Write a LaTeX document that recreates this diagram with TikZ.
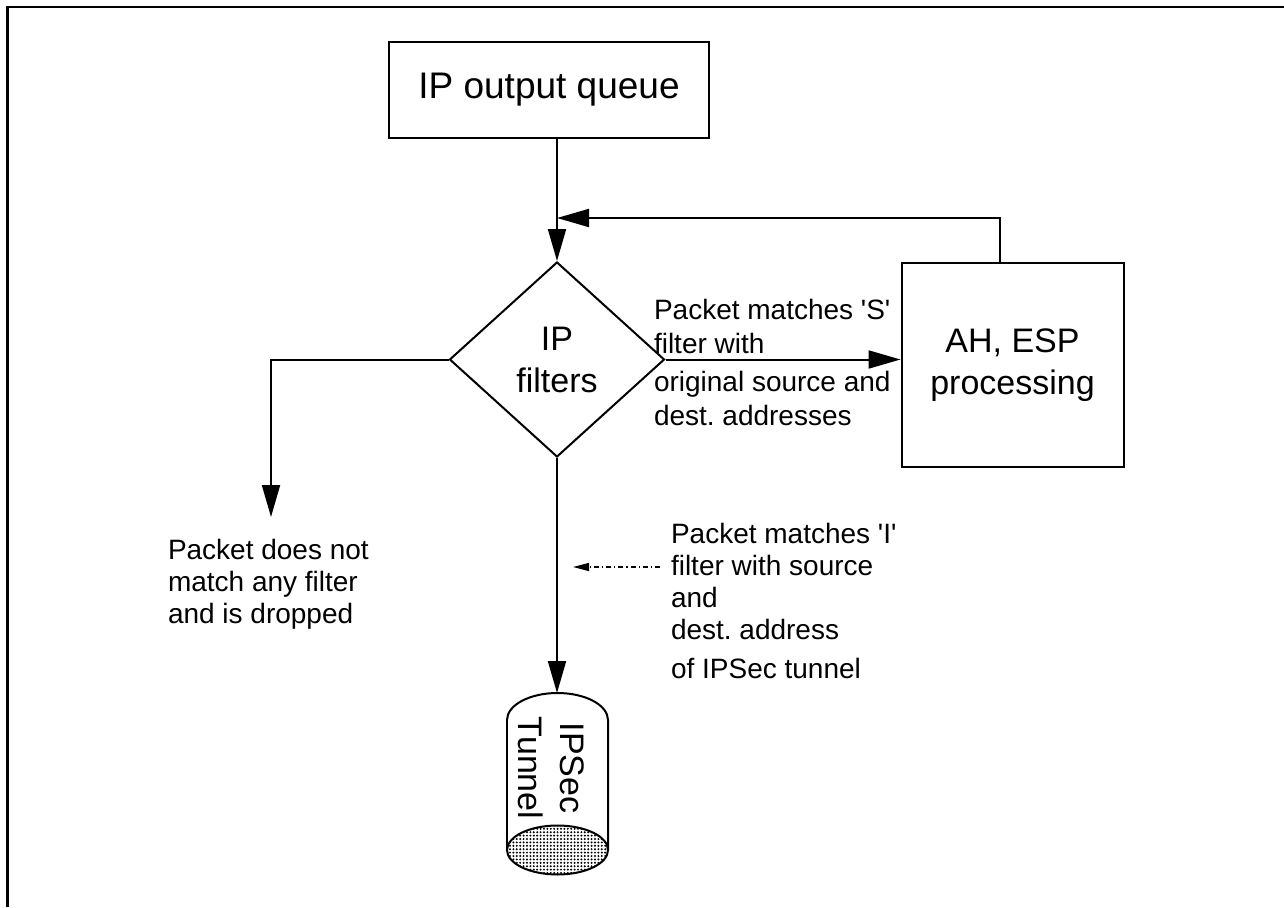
\documentclass[tikz,border=0pt]{standalone}
\usepackage{fontspec}
\setmainfont{Liberation Sans}
\usetikzlibrary{arrows.meta,shapes.geometric,patterns.meta,calc}
\frenchspacing
\begin{document}
\begin{tikzpicture}[x=0.5pt,y=0.5pt,
  line width=1pt,
  flow/.style={-{Triangle[length=16pt,width=9pt]}},
  proc/.style={draw,rectangle,inner sep=0pt,align=center,font=\fontsize{17}{21}\selectfont},
  decide/.style={draw,diamond,inner sep=0pt,align=center,font=\fontsize{17}{21}\selectfont},
  note/.style={inner sep=0pt,anchor=north west,align=left,font=\fontsize{14}{16}\selectfont}
]
\useasboundingbox (0,0) rectangle (1284,907);
% page frame
\draw[line width=1.2pt] (7.5,0) -- (7.5,900) -- (1284,900);

% boxes and decision
\node[proc,minimum width=160pt,minimum height=48pt,font=\fontsize{18.5}{22}\selectfont] (queue) at (549,817) {IP output queue};
\node[decide,minimum width=107.5pt,minimum height=97.5pt] (filt) at (557,547.5) {IP\\filters};
\node[proc,minimum width=111pt,minimum height=102pt] (ah) at (1012.5,542) {AH, ESP\\processing};

% queue to filters
\draw[flow] (filt.north |- queue.south) -- (filt.north);

% loop back from AH/ESP processing
\coordinate (join) at (557,689);
\coordinate (loopup) at ($(ah.north west)!0.446!(ah.north east)$);
\draw[flow] (loopup) |- (join);

% S filter branch
\draw[flow] (filt.east) -- (filt.east -| ah.west);

% dropped branch
\coordinate (droptip) at (271,390);
\draw[flow] (filt.west) -| (droptip);

% tunnel cylinder
\coordinate (cyltop) at (557,214);
\draw[flow] (filt.south) -- (cyltop);
\draw (507,187) arc[start angle=180,end angle=0,x radius=25.25pt,y radius=13.5pt] -- (608,57);
\draw (507,187) -- (507,57);
\draw[pattern={Dots[distance=1.7pt,radius=0.55pt]}] (557.5,57) ellipse[x radius=25.25pt,y radius=12.25pt];
\node[rotate=-90,align=center,inner sep=0pt,font=\fontsize{17}{21}\selectfont] (cyltext) at (551,139) {IPSec\\Tunnel};

% labels
\node[note] (droplab) at (167,369) {Packet does not\\match any filter\\and is dropped};
\node[note,font=\fontsize{14}{17}\selectfont] (slab) at (653,609) {Packet matches \textquotesingle S\textquotesingle\\filter with\\[2pt]original source and\\dest. addresses};
\node[note] (ilab) at (670,385) {Packet matches \textquotesingle I\textquotesingle\\filter with source\\and\\dest. address\\[3.5pt]of IPSec tunnel};

% pointer from the I-filter note
\coordinate (dstart) at (660,340);
\coordinate (dtip) at (573,340);
\draw[line width=0.7pt,dash pattern=on 2.5pt off 1.5pt on 0.6pt off 1.5pt,-{Triangle[length=8pt,width=4pt]}] (dstart) -- (dtip);
\end{tikzpicture}
\end{document}
